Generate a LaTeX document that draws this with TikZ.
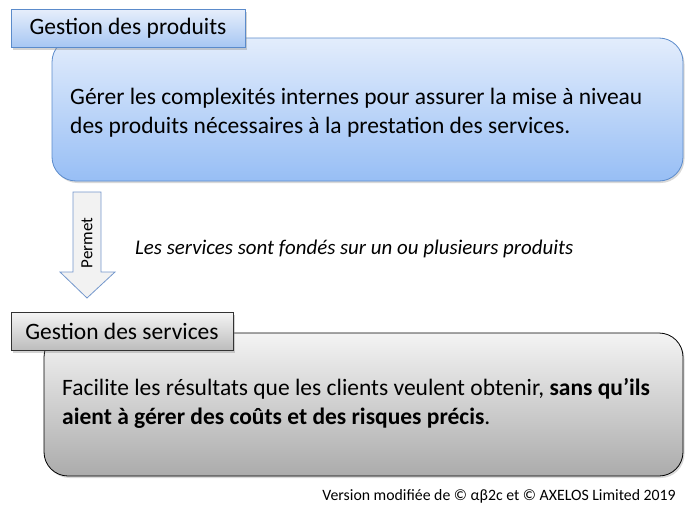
\documentclass[tikz,border=0pt]{standalone}
\usepackage{fontspec}
\setmainfont{Carlito}
\usetikzlibrary{shadows}
\definecolor{blueborder}{HTML}{5B8BCB}
\definecolor{bluetop}{HTML}{E3EDFC}
\definecolor{bluebot}{HTML}{97BEF5}
\definecolor{tbluetop}{HTML}{E6EEFB}
\definecolor{tbluebot}{HTML}{A6C6F3}
\definecolor{graytop}{HTML}{F4F4F4}
\definecolor{graybot}{HTML}{ABABAB}
\definecolor{arrowfill}{HTML}{F2F2F2}
\definecolor{arrowborder}{HTML}{7397CC}
\tikzset{
  bigbox/.style={rounded corners=24pt, line width=0.8pt, shading=axis, shading angle=0,
    drop shadow={opacity=0.3, shadow xshift=1.5pt, shadow yshift=-2pt}},
  titlebox/.style={line width=0.8pt, shading=axis, shading angle=0,
    drop shadow={opacity=0.35, shadow xshift=2pt, shadow yshift=-2pt},
    font=\fontsize{23.5}{27}\selectfont, inner sep=0pt},
  bodytext/.style={align=left, anchor=base west, inner sep=0pt, font=\fontsize{23.5}{29}\selectfont},
}
\begin{document}
\begin{tikzpicture}[x=1pt,y=-1pt]
\useasboundingbox (0,0) rectangle (690,514);
% top big box
\path[bigbox, draw=blueborder, top color=bluetop, bottom color=bluebot]
  (52,38) rectangle (683,181);
\node (prodtitle) [titlebox, draw=blueborder, top color=tbluetop, bottom color=tbluebot,
  minimum width=234pt, minimum height=38pt] at (128,28.5) {Gestion des produits};
\node (prodtext) [bodytext] at (70,133) {Gérer les complexités internes pour assurer la mise à niveau\\des produits nécessaires à la prestation des services.};
% arrow
\path[draw=arrowborder, fill=arrowfill, line width=0.8pt]
  (73,192) -- (101,192) -- (101,272) -- (115,272) -- (87,298) -- (60,272) -- (73,272) -- cycle;
\node (permet) [rotate=90, font=\fontsize{17}{20}\selectfont, inner sep=0pt] at (87,243) {Permet};
\node (fonde) [anchor=base west, inner sep=0pt, font=\fontsize{20.9}{24}\itshape] at (135,254) {Les services sont fondés sur un ou plusieurs produits};
% bottom big box
\path[bigbox, draw=black, top color=graytop, bottom color=graybot]
  (44,333) rectangle (683,476);
\node (servtitle) [titlebox, draw=black!80, top color=graytop, bottom color=graybot!80,
  minimum width=222pt, minimum height=38pt] at (122,331.5) {Gestion des services};
\node (servtext) [bodytext] at (62,424) {Facilite les résultats que les clients veulent obtenir, \textbf{sans qu’ils}\\\textbf{aient à gérer des coûts et des risques précis}.};
\node (footer) [anchor=east, inner sep=0pt, font=\fontsize{15.8}{18}\selectfont] at (676,496) {Version modifiée de © αβ2c et © AXELOS Limited 2019};
\end{tikzpicture}
\end{document}
